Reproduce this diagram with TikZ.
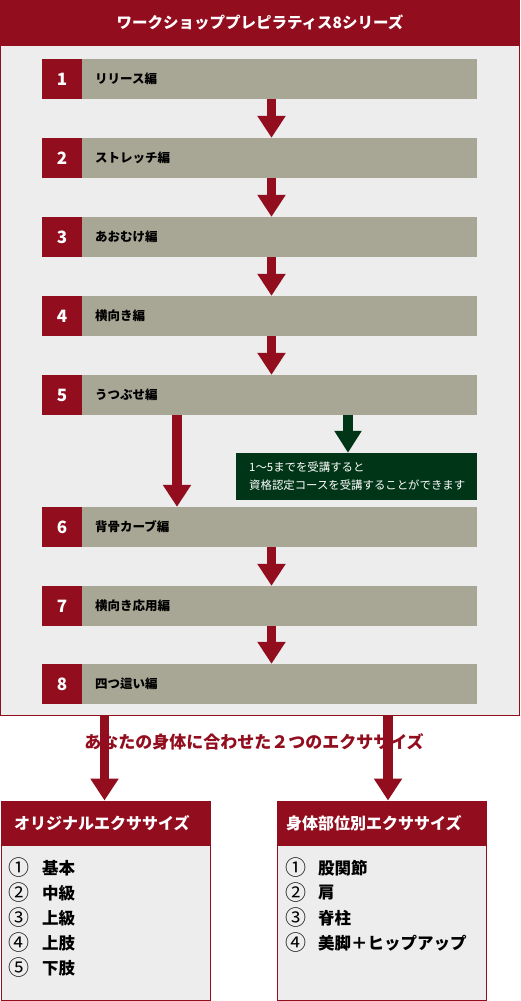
\documentclass[tikz,border=0pt]{standalone}
\usepackage{fontspec}
\setmainfont{Noto Sans CJK JP}
\usetikzlibrary{arrows.meta}
\definecolor{wred}{HTML}{920D1E}
\definecolor{wgray}{HTML}{A8A795}
\definecolor{wgreen}{HTML}{003617}
\definecolor{wbg}{HTML}{EDEDED}
\tikzset{
  numbox/.style={fill=wred, minimum width=40pt, minimum height=40pt, inner sep=0pt, text=white, font=\fontsize{17}{17}\selectfont\bfseries},
  barbox/.style={fill=wgray, minimum width=395pt, minimum height=40pt, inner sep=0pt},
  steplabel/.style={anchor=west, inner sep=0pt, font=\fontsize{12.5}{13}\selectfont\bfseries, text=black},
  redarrow/.style={draw=wred, line width=9.5pt, -{Triangle[width=27pt,length=22pt]}},
  greenarrow/.style={draw=wgreen, line width=9.5pt, -{Triangle[width=26pt,length=22pt]}},
  outbox/.style={draw=wred, fill=wbg, line width=1pt, minimum width=209pt, minimum height=199pt, inner sep=0pt},
  boxtitle/.style={anchor=west, inner sep=0pt, text=white, font=\fontsize{16}{16}\selectfont\bfseries},
  circnum/.style={inner sep=0pt, font=\fontsize{21}{21}\selectfont},
  itemtext/.style={anchor=west, inner sep=0pt, font=\fontsize{16.5}{17}\selectfont\bfseries}
}
\begin{document}
\begin{tikzpicture}[x=1pt,y=-1pt]
\useasboundingbox (0,0) rectangle (520,1001);
% main frame
\node[draw=wred, fill=wbg, line width=1pt, minimum width=519pt, minimum height=715pt, inner sep=0pt] (frame) at (260,358) {};
\fill[wred] (0,0) rectangle (520,46);
\node[text=white, font=\fontsize{15.5}{16}\selectfont\bfseries] (title) at (260,23) {ワークショッププレピラティス8シリーズ};
% steps
\foreach \n/\t/\l in {1/59/リリース編, 2/138/ストレッチ編, 3/217/あおむけ編, 4/296/横向き編, 5/375/うつぶせ編, 6/507/背骨カーブ編, 7/586/横向き応用編, 8/664/四つ這い編}{
  \node[barbox] (b\n) at (279.5,\t+20) {};
  \node[numbox] (n\n) at (62,\t+20) {\n};
  \node[steplabel] (l\n) at (95,\t+20) {\l};
}
% arrows between steps
\foreach \a/\b in {1/2,2/3,3/4,4/5,6/7,7/8}{
  \draw[redarrow] ([xshift=-8pt]b\a.south) -- ([xshift=-8pt]b\b.north);
}
\draw[redarrow] ([xshift=-102.5pt]b5.south) -- ([xshift=-102.5pt]b6.north);
% green note
\node[fill=wgreen, minimum width=241pt, minimum height=47pt, inner sep=0pt] (note) at (356.5,476.5) {};
\node[anchor=west, inner sep=0pt, align=left, text=white, font=\fontsize{11.4}{18}\selectfont] (notetext) at (249,476.5) {1～5までを受講すると\\資格認定コースを受講することができます};
\draw[greenarrow] ([xshift=68.5pt]b5.south) -- ([xshift=-8.5pt]note.north);
% bottom boxes
\node[outbox] (lbox) at (106,900.5) {};
\node[outbox] (rbox) at (382,900.5) {};
\fill[wred] (lbox.north west) rectangle (211,846);
\fill[wred] (rbox.north west) rectangle (487,846);
\node[boxtitle] (ltitle) at (14,823) {オリジナルエクササイズ};
\node[boxtitle] (rtitle) at (286,823) {身体部位別エクササイズ};
% arrows to boxes
\draw[redarrow] ([xshift=-155.5pt]frame.south) -- ([xshift=-1.5pt]lbox.north);
\draw[redarrow] ([xshift=128pt]frame.south) -- ([xshift=6pt]rbox.north);
\node[text=wred, inner sep=0pt, font=\fontsize{17}{17}\selectfont\bfseries] (mid) at (254,742) {あなたの身体に合わせた２つのエクササイズ};
% items
\foreach \c/\y/\l in {①/868/基本, ②/893/中級, ③/918/上級, ④/943/上肢, ⑤/968/下肢}{
  \node[circnum] (lc\y) at (19,\y) {\c};
  \node[itemtext] (li\y) at (42,\y) {\l};
}
\foreach \c/\y/\l in {①/868/股関節, ②/893/肩, ③/918/脊柱, ④/943/美脚＋ヒップアップ}{
  \node[circnum] (rc\y) at (296,\y) {\c};
  \node[itemtext] (ri\y) at (318,\y) {\l};
}
\end{tikzpicture}
\end{document}
